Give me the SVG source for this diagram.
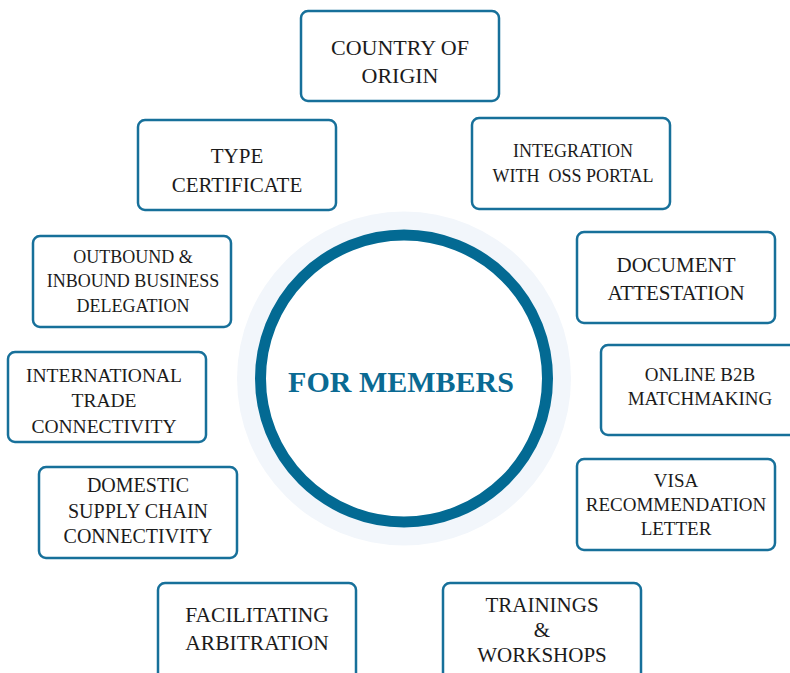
<svg xmlns="http://www.w3.org/2000/svg" width="790" height="673" viewBox="0 0 790 673">
<style>
.box{fill:#ffffff;stroke:#17709a;stroke-width:2.5}
.t{font-family:"Liberation Serif","Times New Roman",serif;fill:#1b1b1b;text-anchor:middle}
.hub{font-family:"Liberation Serif","Times New Roman",serif;fill:#0a6a93;font-weight:bold;text-anchor:middle;font-size:30px}
</style>
<rect width="790" height="673" fill="#ffffff"/>
<g id="connectors"></g>
<g id="hub">
<circle cx="404" cy="378.5" r="167" fill="#f2f6fb"/>
<circle cx="404" cy="378.5" r="143.5" fill="#ffffff" stroke="#036a93" stroke-width="11"/>
<text class="hub" x="401" y="392">FOR MEMBERS</text>
</g>
<g id="country-of-origin">
<rect class="box" x="301" y="11" width="198" height="90" rx="7"/>
<text class="t" font-size="22" x="400" y="55">COUNTRY OF</text>
<text class="t" font-size="22" x="400" y="83">ORIGIN</text>
</g>
<g id="type-certificate">
<rect class="box" x="138" y="120" width="198" height="90" rx="7"/>
<text class="t" font-size="21" x="237" y="163">TYPE</text>
<text class="t" font-size="21" x="237" y="192">CERTIFICATE</text>
</g>
<g id="integration-oss">
<rect class="box" x="472" y="118" width="198" height="91" rx="7"/>
<text class="t" font-size="18" x="573" y="157">INTEGRATION</text>
<text class="t" font-size="18" x="573" y="182" xml:space="preserve">WITH  OSS PORTAL</text>
</g>
<g id="business-delegation">
<rect class="box" x="33" y="236" width="198" height="91" rx="7"/>
<text class="t" font-size="18" x="133" y="263">OUTBOUND &amp;</text>
<text class="t" font-size="18" x="133" y="287">INBOUND BUSINESS</text>
<text class="t" font-size="18" x="133" y="312">DELEGATION</text>
</g>
<g id="document-attestation">
<rect class="box" x="577" y="232" width="198" height="91" rx="7"/>
<text class="t" font-size="21" x="676" y="272">DOCUMENT</text>
<text class="t" font-size="21" x="676" y="300">ATTESTATION</text>
</g>
<g id="international-trade">
<rect class="box" x="8" y="352" width="198" height="90" rx="7"/>
<text class="t" font-size="19.5" x="104" y="382">INTERNATIONAL</text>
<text class="t" font-size="19.5" x="104" y="407">TRADE</text>
<text class="t" font-size="19.5" x="104" y="433">CONNECTIVITY</text>
</g>
<g id="online-b2b">
<rect class="box" x="601" y="345" width="198" height="90" rx="7"/>
<text class="t" font-size="19" x="700" y="381">ONLINE B2B</text>
<text class="t" font-size="19" x="700" y="405">MATCHMAKING</text>
</g>
<g id="domestic-supply-chain">
<rect class="box" x="39" y="467" width="198" height="91" rx="7"/>
<text class="t" font-size="20" x="138" y="492">DOMESTIC</text>
<text class="t" font-size="20" x="138" y="518">SUPPLY CHAIN</text>
<text class="t" font-size="20" x="138" y="543">CONNECTIVITY</text>
</g>
<g id="visa-recommendation">
<rect class="box" x="577" y="459" width="198" height="91" rx="7"/>
<text class="t" font-size="19" x="676" y="487">VISA</text>
<text class="t" font-size="19" x="676" y="511">RECOMMENDATION</text>
<text class="t" font-size="19" x="676" y="535">LETTER</text>
</g>
<g id="facilitating-arbitration">
<rect class="box" x="158" y="583" width="198" height="100" rx="7"/>
<text class="t" font-size="21.5" x="257" y="622">FACILITATING</text>
<text class="t" font-size="21.5" x="257" y="650">ARBITRATION</text>
</g>
<g id="trainings-workshops">
<rect class="box" x="443" y="583" width="198" height="100" rx="7"/>
<text class="t" font-size="21" x="542" y="612">TRAININGS</text>
<text class="t" font-size="21" x="542" y="637">&amp;</text>
<text class="t" font-size="21" x="542" y="662">WORKSHOPS</text>
</g>
</svg>
